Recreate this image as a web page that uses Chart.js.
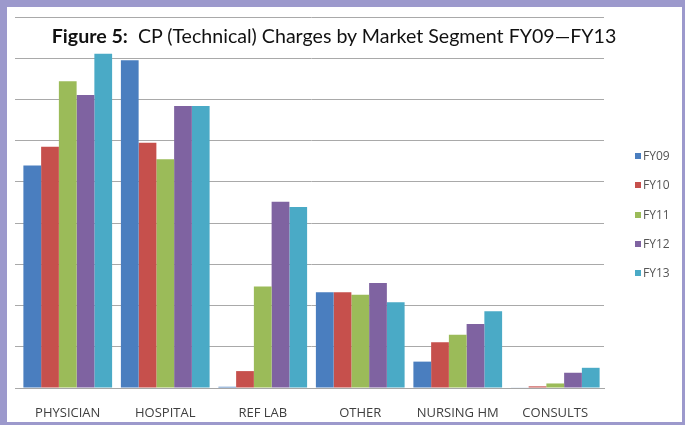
<!DOCTYPE html>
<html>
<head>
<meta charset="utf-8">
<script src="https://cdn.jsdelivr.net/npm/chart.js@4/dist/chart.umd.min.js"></script>
<style>
  html, body { margin: 0; padding: 0; }
  body { width: 685px; height: 425px; background: #9c99cc; position: relative; overflow: hidden; }
  #frame { position: absolute; left: 7px; top: 7px; width: 675px; height: 415px; background: #ffffff; }
  #chartBox { position: absolute; left: 0; top: 0; width: 675px; height: 415px; }
  #title { position: absolute; left: 0; width: 654px; top: 17px; text-align: center;
           font-family: Lato, "Open Sans", sans-serif; font-size: 19.6px; color: #111; white-space: nowrap; }
  #legend { position: absolute; left: 628px; top: 142px; margin: 0; padding: 0; list-style: none;
            font-family: "Open Sans", sans-serif; font-size: 12px; color: #555; }
  #legend li { height: 29.3px; line-height: 14px; display: flex; align-items: flex-start; }
  #legend .sw { width: 6px; height: 6px; margin: 4px 2px 0 0; display: inline-block; }
</style>
</head>
<body>
<div id="frame">
  <div id="chartBox"><canvas id="chart"></canvas></div>
  <div id="title"><b>Figure 5:</b>&nbsp; CP (Technical) Charges by Market Segment FY09—FY13</div>
  <ul id="legend"></ul>
</div>
<script>
// Market segments along the x axis
const segments = ["PHYSICIAN", "HOSPITAL", "REF LAB", "OTHER", "NURSING HM", "CONSULTS"];

// Fiscal years shown in the legend
const years = ["FY09", "FY10", "FY11", "FY12", "FY13"];

// Charges per segment, one array per fiscal year (in gridline units)
const fy09 = [5.40, 7.95, 0.03, 2.32, 0.64, 0.01];
const fy10 = [5.85, 5.95, 0.41, 2.32, 1.11, 0.04];
const fy11 = [7.44, 5.55, 2.46, 2.26, 1.29, 0.11];
const fy12 = [7.11, 6.84, 4.52, 2.55, 1.55, 0.37];
const fy13 = [8.11, 6.84, 4.39, 2.08, 1.86, 0.49];

// Value axis range
const yMin = 0;
const yMax = 9;
const yStep = 1;

const seriesValues = [fy09, fy10, fy11, fy12, fy13];
const seriesColors = ["#4a7ebf", "#c6504c", "#9bbb59", "#7f63a1", "#4aaac6"];

const datasets = years.map((y, i) => ({
  label: y,
  data: seriesValues[i],
  backgroundColor: seriesColors[i],
  borderWidth: 0,
  categoryPercentage: 0.91,
  barPercentage: 1.0
}));

// Legend list built from the same series
const legendEl = document.getElementById("legend");
years.forEach((y, i) => {
  const li = document.createElement("li");
  const sw = document.createElement("span");
  sw.className = "sw";
  sw.style.background = seriesColors[i];
  li.appendChild(sw);
  li.appendChild(document.createTextNode(y));
  legendEl.appendChild(li);
});

new Chart(document.getElementById("chart"), {
  type: "bar",
  data: { labels: segments, datasets },
  options: {
    responsive: true,
    maintainAspectRatio: false,
    animation: false,
    layout: { padding: { left: 8, top: 10, right: 78, bottom: 0 } },
    plugins: {
      legend: { display: false },
      title: { display: false },
      tooltip: { enabled: false }
    },
    scales: {
      x: {
        grid: { display: false },
        border: { display: true, color: "#a6a6a6", width: 1 },
        afterFit: (scale) => { scale.height = 34; },
        ticks: {
          color: "#404040",
          padding: 9,
          font: { family: "'Open Sans', sans-serif", size: 13 }
        }
      },
      y: {
        min: yMin,
        max: yMax,
        ticks: { stepSize: yStep, display: false },
        border: { display: false },
        grid: { color: "#a9a9a9", lineWidth: 1, drawTicks: true, tickLength: 4 }
      }
    }
  }
});
</script>
</body>
</html>
